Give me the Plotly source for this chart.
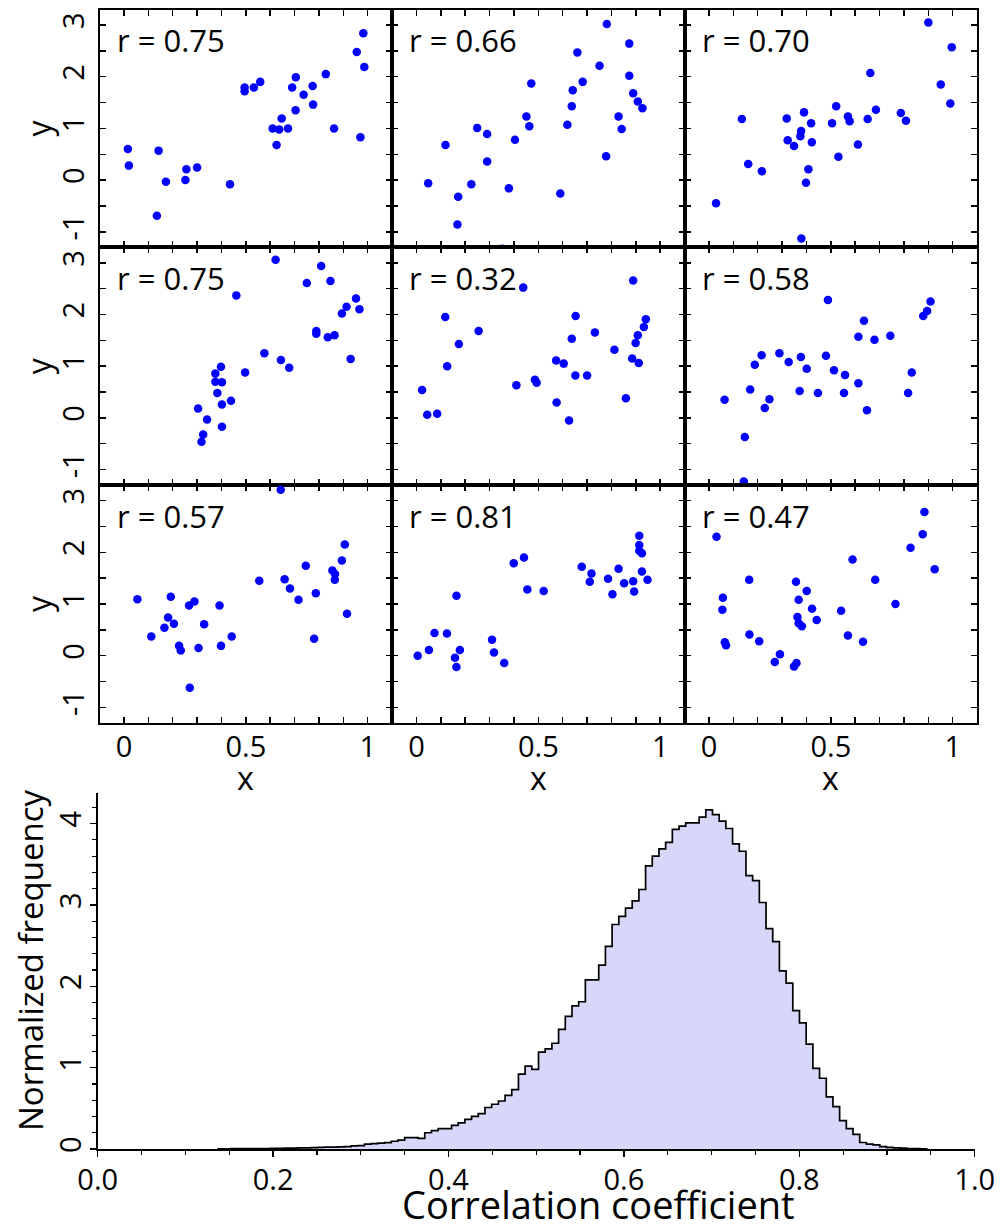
import numpy as np
import plotly.graph_objects as go

# ---------------- data ----------------
r_labels = ["r = 0.75", "r = 0.66", "r = 0.70",
            "r = 0.75", "r = 0.32", "r = 0.58",
            "r = 0.57", "r = 0.81", "r = 0.47"]

x1 = [0.016, 0.02, 0.142, 0.135, 0.172, 0.252, 0.256, 0.30, 0.435, 0.495, 0.495, 0.533, 0.559, 0.61, 0.637,
      0.626, 0.647, 0.673, 0.704, 0.69, 0.705, 0.737, 0.774, 0.776, 0.828, 0.862, 0.955, 0.97, 0.982, 0.986]
y1 = [0.60, 0.28, 0.57, -0.69, -0.03, 0.0, 0.21, 0.245, -0.08, 1.79, 1.72, 1.79, 1.90, 1.0, 0.98,
      0.68, 1.19, 1.0, 1.35, 1.79, 1.99, 1.65, 1.82, 1.46, 2.05, 1.0, 2.48, 0.83, 2.84, 2.19]

x2 = [0.048, 0.119, 0.171, 0.168, 0.225, 0.249, 0.29, 0.29, 0.379, 0.404, 0.451, 0.463, 0.471, 0.353, 0.59,
      0.619, 0.637, 0.641, 0.66, 0.682, 0.751, 0.778, 0.781, 0.829, 0.842, 0.873, 0.873, 0.889, 0.908, 0.927]
y2 = [-0.06, 0.68, -0.32, -0.86, -0.08, 1.01, 0.89, 0.36, -0.16, 0.78, 1.23, 1.04, 1.87, -1.33, -0.26,
      1.07, 1.43, 1.74, 2.47, 1.90, 2.21, 0.46, 3.02, 1.23, 0.99, 2.64, 2.02, 1.68, 1.52, 1.39]

x3 = [0.029, 0.135, 0.161, 0.217, 0.319, 0.323, 0.349, 0.375, 0.378, 0.39, 0.419, 0.422, 0.408, 0.398, 0.379,
      0.505, 0.522, 0.531, 0.57, 0.577, 0.611, 0.651, 0.662, 0.685, 0.787, 0.808, 0.90, 0.951, 0.99, 0.996]
y3 = [-0.45, 1.18, 0.31, 0.17, 1.19, 0.77, 0.66, 0.85, 0.95, 1.31, 1.10, 0.73, 0.21, -0.05, -1.13,
      1.10, 1.43, 0.45, 1.23, 1.14, 0.69, 1.18, 2.07, 1.36, 1.30, 1.15, 3.05, 1.85, 1.48, 2.57]

x4 = [0.304, 0.325, 0.318, 0.341, 0.375, 0.375, 0.398, 0.402, 0.383, 0.402, 0.402, 0.439, 0.461, 0.497, 0.576,
      0.622, 0.644, 0.678, 0.75, 0.789, 0.789, 0.809, 0.836, 0.864, 0.847, 0.894, 0.913, 0.93, 0.952, 0.966]
y4 = [0.18, -0.32, -0.46, -0.03, 0.70, 0.86, 0.99, 0.69, 0.48, 0.26, -0.17, 0.33, 2.37, 0.88, 1.25,
      3.06, 1.12, 0.97, 2.61, 1.68, 1.63, 2.94, 1.56, 1.60, 2.65, 2.02, 2.15, 1.14, 2.31, 2.10]

x5 = [0.023, 0.044, 0.085, 0.118, 0.126, 0.174, 0.255, 0.41, 0.438, 0.486, 0.493, 0.573, 0.604, 0.575, 0.626,
      0.637, 0.653, 0.652, 0.70, 0.732, 0.812, 0.859, 0.885, 0.912, 0.889, 0.899, 0.908, 0.933, 0.941]
y5 = [0.54, 0.06, 0.08, 1.95, 1.0, 1.43, 1.68, 0.63, 2.52, 0.74, 0.68, 1.11, 1.05, 0.30, -0.05,
      1.53, 1.97, 0.82, 0.82, 1.65, 1.32, 0.38, 1.15, 1.06, 2.66, 1.45, 1.60, 1.76, 1.91]

x6 = [0.064, 0.147, 0.143, 0.169, 0.188, 0.216, 0.229, 0.248, 0.289, 0.327, 0.372, 0.377, 0.401, 0.447, 0.48,
      0.488, 0.513, 0.558, 0.554, 0.613, 0.613, 0.636, 0.648, 0.679, 0.744, 0.817, 0.832, 0.879, 0.895, 0.909]
y6 = [0.35, -0.37, -1.23, 0.55, 1.03, 1.21, 0.19, 0.36, 1.25, 1.08, 0.52, 1.18, 0.95, 0.48, 1.20,
      2.28, 0.92, 0.83, 0.48, 0.67, 1.57, 1.88, 0.15, 1.51, 1.59, 0.48, 0.88, 1.97, 2.07, 2.25]

x7 = [0.055, 0.112, 0.166, 0.181, 0.205, 0.192, 0.226, 0.233, 0.267, 0.289, 0.27, 0.306, 0.329, 0.392, 0.398,
      0.442, 0.555, 0.643, 0.659, 0.681, 0.716, 0.746, 0.78, 0.787, 0.855, 0.866, 0.865, 0.894, 0.906, 0.915]
y7 = [1.09, 0.37, 0.54, 0.74, 0.62, 1.14, 0.19, 0.10, 0.97, 1.05, -0.62, 0.15, 0.61, 0.97, 0.19,
      0.37, 1.45, 3.21, 1.48, 1.30, 1.08, 1.74, 0.33, 1.21, 1.65, 1.58, 1.47, 1.84, 2.15, 0.81]

x8 = [0.005, 0.051, 0.074, 0.125, 0.158, 0.164, 0.178, 0.164, 0.31, 0.318, 0.36, 0.399, 0.441, 0.455, 0.522,
      0.678, 0.718, 0.711, 0.786, 0.804, 0.829, 0.852, 0.889, 0.893, 0.925, 0.948, 0.914, 0.914, 0.914, 0.925]
y8 = [0.0, 0.11, 0.44, 0.43, -0.04, -0.22, 0.11, 1.16, 0.31, 0.06, -0.14, 1.79, 1.90, 1.28, 1.25,
      1.72, 1.59, 1.43, 1.49, 1.19, 1.68, 1.40, 1.44, 1.24, 1.63, 1.47, 2.32, 2.14, 2.03, 1.98]

x9 = [0.031, 0.057, 0.055, 0.065, 0.07, 0.165, 0.166, 0.206, 0.27, 0.291, 0.349, 0.359, 0.357, 0.368, 0.363,
      0.368, 0.381, 0.401, 0.423, 0.442, 0.542, 0.57, 0.589, 0.632, 0.682, 0.765, 0.827, 0.877, 0.884, 0.926]
y9 = [2.30, 1.12, 0.89, 0.26, 0.20, 1.47, 0.41, 0.28, -0.12, 0.03, -0.21, -0.14, 1.43, 1.08, 0.75,
      0.63, 0.57, 1.25, 0.91, 0.69, 0.87, 0.39, 1.86, 0.27, 1.47, 1.0, 2.09, 2.35, 2.78, 1.67]

panel_x = [x1, x2, x3, x4, x5, x6, x7, x8, x9]
panel_y = [y1, y2, y3, y4, y5, y6, y7, y8, y9]

scatter_xtick_vals = [0, 0.1, 0.2, 0.3, 0.4, 0.5, 0.6, 0.7, 0.8, 0.9, 1.0]
scatter_xtick_text = ["0", "", "", "", "", "0.5", "", "", "", "", "1"]
scatter_ytick_vals = [-1, -0.5, 0, 0.5, 1, 1.5, 2, 2.5, 3]
scatter_ytick_text = ["-1", "", "0", "", "1", "", "2", "", "3"]

# histogram of correlation coefficients (normalized frequency per bin)
hist_bin_start = 0.1364
hist_bin_width = 0.00763
hist_freq = [0.003, 0.003, 0.004, 0.004, 0.005, 0.005, 0.006, 0.006,
             0.008, 0.009, 0.010, 0.011,
             0.013, 0.015, 0.017,
             0.020, 0.022, 0.024, 0.026,
             0.030, 0.038, 0.042, 0.060, 0.066, 0.072, 0.078,
             0.095, 0.11, 0.14, 0.14, 0.13, 0.20, 0.225, 0.25, 0.25,
             0.29, 0.32, 0.365, 0.40, 0.435,
             0.51, 0.55, 0.59, 0.66, 0.73, 0.92, 1.02, 0.98, 1.19, 1.23,
             1.30, 1.47, 1.63, 1.76, 1.81, 2.08, 2.08, 2.26, 2.49, 2.76,
             2.86, 2.96, 3.05, 3.19, 3.48, 3.60, 3.69, 3.77, 3.93, 3.97,
             4.01, 4.01, 4.08, 4.17, 4.11, 4.03, 3.94, 3.75, 3.66, 3.36,
             3.30, 3.03, 2.71, 2.55, 2.19, 2.04, 1.70, 1.55, 1.29, 0.99,
             0.87, 0.64, 0.52, 0.35, 0.25, 0.18, 0.08, 0.06, 0.05, 0.03,
             0.02, 0.015, 0.01, 0.006, 0.004, 0.002]
hist_xtick_vals = [0.0, 0.2, 0.4, 0.6, 0.8, 1.0]
hist_xtick_text = ["0.0", "0.2", "0.4", "0.6", "0.8", "1.0"]
hist_ytick_vals = [0, 1, 2, 3, 4]
hist_ytick_text = ["0", "1", "2", "3", "4"]

# ---------------- layout geometry (pixels) ----------------
W, H = 1000, 1232
FONT = "Open Sans"
col_left = [99.6, 392.1, 684.6]
col_w = 292.5
row_top = [9.5, 247.3, 485.1]
row_h = 237.8

fig = go.Figure()
layout = dict(width=W, height=H, margin=dict(l=0, r=0, t=0, b=0, autoexpand=False),
              paper_bgcolor="white", plot_bgcolor="white", showlegend=False, hovermode=False,
              font=dict(family=FONT, color="black", size=28))
annotations = []

for i in range(9):
    r, c = divmod(i, 3)
    n = "" if i == 0 else str(i + 1)
    xa = dict(domain=[col_left[c] / W, (col_left[c] + col_w) / W], range=[-0.1, 1.1],
              anchor="y" + n, tickmode="array", tickvals=scatter_xtick_vals,
              ticktext=scatter_xtick_text, showticklabels=(r == 2),
              ticks="inside", ticklen=6, tickwidth=1.5, tickcolor="black",
              showline=True, linewidth=2, linecolor="black", mirror="allticks",
              showgrid=False, zeroline=False, tickfont=dict(size=29), ticklabelstandoff=-3,
              automargin=False)
    ya = dict(domain=[1 - (row_top[r] + row_h) / H, 1 - row_top[r] / H], range=[-1.3, 3.3],
              anchor="x" + n, tickmode="array", tickvals=scatter_ytick_vals,
              ticktext=scatter_ytick_text, showticklabels=(c == 0), tickangle=-90,
              ticks="inside", ticklen=6, tickwidth=1.5, tickcolor="black",
              showline=True, linewidth=2, linecolor="black", mirror="allticks",
              showgrid=False, zeroline=False, tickfont=dict(size=29), ticklabelstandoff=2,
              automargin=False)
    layout["xaxis" + n] = xa
    layout["yaxis" + n] = ya
    fig.add_trace(go.Scatter(x=panel_x[i], y=panel_y[i], mode="markers",
                             xaxis="x" + n, yaxis="y" + n,
                             marker=dict(size=8.5, color="rgb(0,0,255)", line=dict(width=0))))
    annotations.append(dict(text=r_labels[i], xref="x" + n + " domain", yref="y" + n + " domain",
                            x=0.052, y=0.872, xanchor="left", yanchor="middle", showarrow=False,
                            font=dict(size=31, family=FONT)))

# axis titles for grid
for r in range(3):
    annotations.append(dict(text="y", xref="paper", yref="paper", x=38 / W,
                            y=1 - (row_top[r] + row_h / 2) / H, textangle=-90,
                            xanchor="center", yanchor="middle", showarrow=False,
                            font=dict(size=32, family=FONT)))
for c in range(3):
    annotations.append(dict(text="x", xref="paper", yref="paper",
                            x=(col_left[c] + col_w / 2) / W, y=1 - 778 / H,
                            xanchor="center", yanchor="middle", showarrow=False,
                            font=dict(size=32, family=FONT)))

# histogram
edges = hist_bin_start + hist_bin_width * np.arange(len(hist_freq) + 1)
hx = list(edges)
hy = list(hist_freq) + [0.0]
fig.add_trace(go.Scatter(x=hx, y=hy, mode="lines", line_shape="hv", xaxis="x10", yaxis="y10",
                         line=dict(color="black", width=1.7), fill="tozeroy",
                         fillcolor="rgb(215,215,250)"))
layout["xaxis10"] = dict(domain=[97.7 / W, 974.7 / W], range=[0, 1], anchor="y10",
                         tickmode="array", tickvals=hist_xtick_vals, ticktext=hist_xtick_text,
                         ticks="outside", ticklen=6, tickwidth=1.5, tickcolor="black",
                         minor=dict(dtick=0.05, tick0=0, ticks="outside", ticklen=3.5, tickwidth=1.2,
                                    tickcolor="black", showgrid=False),
                         showline=True, linewidth=2, linecolor="black", showgrid=False,
                         zeroline=False, tickfont=dict(size=29), ticklabelstandoff=-2,
                         automargin=False)
layout["yaxis10"] = dict(domain=[1 - 1149 / H, 1 - 792.7 / H], range=[0, 4.38], anchor="x10",
                         tickmode="array", tickvals=hist_ytick_vals, ticktext=hist_ytick_text,
                         tickangle=-90, ticks="outside", ticklen=6, tickwidth=1.5, tickcolor="black",
                         minor=dict(dtick=0.2, tick0=0, ticks="outside", ticklen=3.5, tickwidth=1.2,
                                    tickcolor="black", showgrid=False),
                         showline=True, linewidth=2, linecolor="black", showgrid=False,
                         zeroline=False, tickfont=dict(size=29), ticklabelstandoff=-3,
                         automargin=False)
annotations.append(dict(text="Normalized frequency", xref="paper", yref="paper", x=30 / W,
                        y=1 - 960 / H, textangle=-90, xanchor="center", yanchor="middle",
                        showarrow=False, font=dict(size=33, family=FONT)))
annotations.append(dict(text="Correlation coefficient", xref="paper", yref="paper", x=598 / W,
                        y=0.0, xanchor="center", yanchor="bottom",
                        showarrow=False, font=dict(size=38, family=FONT)))

layout["annotations"] = annotations
fig.update_layout(**layout)
fig.write_html("out.html", config={"displayModeBar": False, "staticPlot": True},
               post_script="document.body.style.margin='0px';document.body.style.padding='0px';")
